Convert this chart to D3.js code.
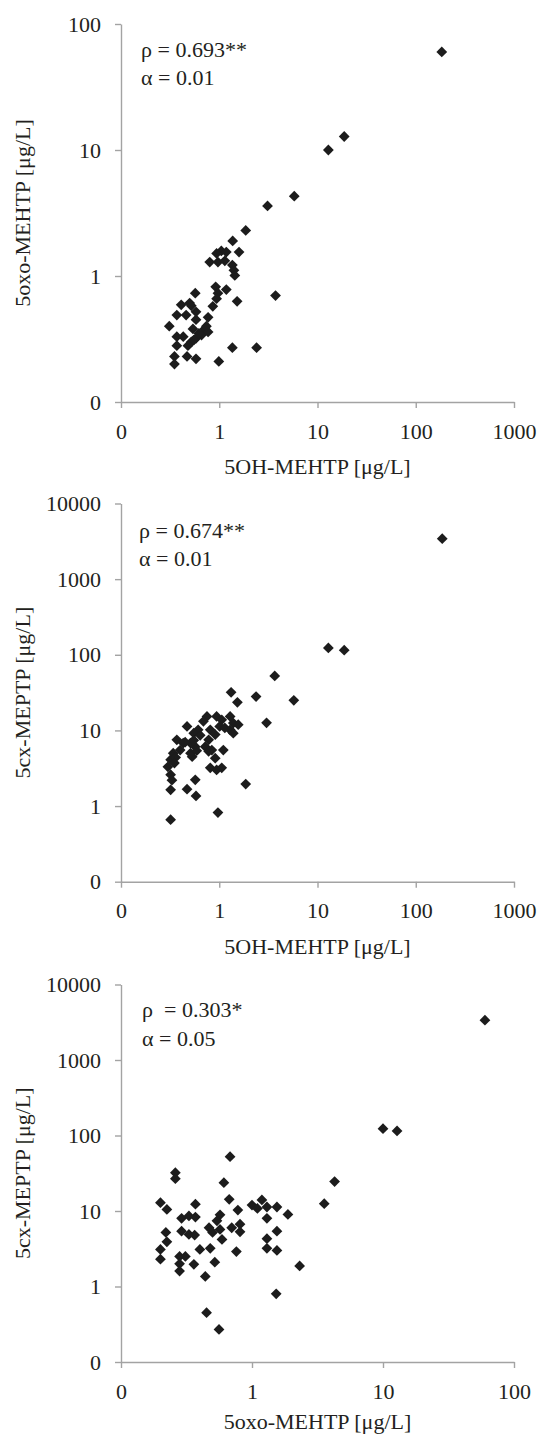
<!DOCTYPE html>
<html>
<head>
<meta charset="utf-8">
<script src="https://cdn.jsdelivr.net/npm/d3@7"></script>
<style>
  body { margin: 0; background: #fff; }
  svg text { font-family: "Liberation Serif", "Times New Roman", serif; fill: #231f20; }
</style>
</head>
<body>
<svg id="chart" width="541" height="1436"></svg>
<script>
// panel 1: 5OH-MEHTP (x) vs 5oxo-MEHTP (y)
const p1_oh = [184, 18.7, 12.9, 5.8, 3.1, 1.86, 1.37, 1.59, 1.05, 0.94, 1.18, 0.80, 0.97, 1.14, 1.36, 1.41, 1.44, 0.92, 1.18, 0.97,
  0.94, 1.52, 3.74, 0.86, 0.57, 0.50, 0.52, 0.41, 0.46, 0.37, 0.58, 0.58, 0.77, 0.31, 0.54, 0.71, 0.77, 0.66, 0.58, 0.52,
  0.48, 0.37, 0.37, 0.43, 0.35, 0.35, 0.47, 0.58, 0.99, 1.36, 2.4, 0.74, 0.62, 0.55]
const p1_oxo = [60, 12.8, 10, 4.3, 3.6, 2.3, 1.9, 1.55, 1.58, 1.51, 1.55, 1.29, 1.29, 1.32, 1.22, 1.11, 1.01, 0.82, 0.78, 0.73,
  0.66, 0.63, 0.70, 0.575, 0.73, 0.61, 0.58, 0.59, 0.49, 0.49, 0.52, 0.45, 0.47, 0.40, 0.38, 0.38, 0.36, 0.34, 0.32, 0.30,
  0.28, 0.33, 0.28, 0.33, 0.23, 0.20, 0.23, 0.22, 0.21, 0.27, 0.27, 0.40, 0.35, 0.31]

// panel 2: 5OH-MEHTP (x) vs 5cx-MEPTP (y)
const p2_oh = [186, 12.9, 18.7, 3.67, 5.74, 2.37, 3.03, 1.32, 1.53, 1.86, 0.97, 0.32, 0.57, 0.47, 0.58, 0.32, 0.75, 0.94, 1.06, 1.29,
  1.39, 1.56, 1.29, 1.39, 1.01, 1.14, 0.69, 0.61, 0.55, 0.47, 0.37, 0.43, 0.40, 0.34, 0.32, 0.30, 0.32, 0.33, 0.51, 0.57,
  0.53, 0.51, 0.81, 0.91, 0.78, 0.72, 0.84, 0.91, 0.81, 0.94, 1.06, 1.10, 0.78, 0.36, 0.35, 0.45, 0.55, 0.64, 0.59]
const p2_cx = [3430, 123, 115, 52.5, 25, 28, 12.6, 31.9, 23.5, 1.95, 0.82, 0.66, 2.22, 1.67, 1.36, 1.64, 15.3, 15.3, 13.8, 15.3,
  12.5, 11.9, 10.2, 9.2, 11.3, 10.8, 13.2, 10.2, 9.2, 11.3, 7.5, 6.8, 5.5, 5.0, 4.1, 3.3, 2.6, 2.2, 6.8, 6.1,
  4.5, 5.0, 10.2, 8.8, 7.5, 6.1, 5.5, 4.3, 3.2, 3.0, 3.2, 5.5, 5.3, 4.4, 3.7, 7.0, 7.4, 8.6, 5.4]

// panel 3: 5oxo-MEHTP (x) vs 5cx-MEPTP (y)
const p3_oxo = [60, 10, 12.8, 0.68, 4.27, 3.56, 0.26, 0.26, 0.61, 0.67, 0.20, 0.224, 0.37, 0.78, 0.29, 0.33, 0.37, 0.57, 0.54, 0.29,
  0.33, 0.365, 0.22, 0.224, 0.20, 0.20, 0.40, 0.48, 0.47, 0.50, 0.57, 0.59, 0.70, 0.81, 0.81, 0.76, 0.52, 0.36, 0.28, 0.31,
  0.28, 0.28, 0.44, 1.30, 1.55, 1.30, 1.30, 1.55, 2.31, 1.53, 0.45, 0.56, 1.0, 1.19, 1.10, 1.30, 1.55, 1.88]
const p3_cx = [3370, 123, 115, 52.5, 24.5, 12.5, 32.2, 26.8, 23.7, 14.3, 12.9, 10.5, 12.3, 10.3, 8.0, 8.6, 8.3, 8.9, 7.4, 5.4,
  4.9, 4.8, 5.2, 3.9, 3.1, 2.3, 3.1, 3.2, 6.0, 5.2, 5.7, 4.2, 6.0, 6.7, 5.3, 2.9, 2.1, 1.97, 2.5, 2.5,
  2.0, 1.6, 1.36, 8.0, 5.4, 4.3, 3.2, 3.0, 1.87, 0.80, 0.45, 0.27, 12.0, 14.0, 10.8, 11.3, 11.3, 9.0]

const panels = [
  {xs: p1_oh, ys: p1_oxo, xMax: 1000, yMax: 100, top: 24, bottom: 402,
   xTitle: '5OH-MEHTP [μg/L]', yTitle: '5oxo-MEHTP [μg/L]', rho: 'ρ = 0.693**', alpha: 'α = 0.01',
   rhoX: 141, rhoY: 57, alphaY: 85, titleGap: 72},
  {xs: p2_oh, ys: p2_cx, xMax: 1000, yMax: 10000, top: 503.5, bottom: 881.7,
   xTitle: '5OH-MEHTP [μg/L]', yTitle: '5cx-MEPTP [μg/L]', rho: 'ρ = 0.674**', alpha: 'α = 0.01',
   rhoX: 139, rhoY: 538, alphaY: 566, titleGap: 72},
  {xs: p3_oxo, ys: p3_cx, xMax: 100, yMax: 10000, top: 984.5, bottom: 1362,
   xTitle: '5oxo-MEHTP [μg/L]', yTitle: '5cx-MEPTP [μg/L]', rho: 'ρ  = 0.303*', alpha: 'α = 0.05',
   rhoX: 142, rhoY: 1017, alphaY: 1046, titleGap: 67}
]

const pad_left = 121
const pad_right = 514
const axisColor = '#a3a3a3'
const svg = d3.select('#chart')

function decades(max){
  let out = []
  for (let v = 0.1; v <= max * 1.001; v *= 10) out.push(+v.toPrecision(1))
  return out
}
const fmt = d => d < 1 ? '0' : String(d)

panels.forEach(p => {
  let xScale = d3.scaleLog().domain([0.1, p.xMax]).range([pad_left, pad_right])
  let yScale = d3.scaleLog().domain([0.1, p.yMax]).range([p.bottom, p.top])

  let xAxis = d3.axisBottom(xScale).tickValues(decades(p.xMax)).tickFormat(fmt)
    .tickSizeInner(6).tickSizeOuter(0).tickPadding(15)
  let yAxis = d3.axisLeft(yScale).tickValues(decades(p.yMax)).tickFormat(fmt)
    .tickSizeInner(6).tickSizeOuter(0).tickPadding(14)

  let gx = svg.append('g').attr('transform', 'translate(0,' + p.bottom + ')').call(xAxis)
  let gy = svg.append('g').attr('transform', 'translate(' + pad_left + ',0)').call(yAxis)

  ;[gx, gy].forEach(g => {
    g.select('.domain').attr('stroke', axisColor).attr('stroke-width', 1.4)
    g.selectAll('.tick line').attr('stroke', axisColor).attr('stroke-width', 1.4)
    g.selectAll('.tick text').attr('font-size', 22).attr('fill', '#231f20')
      .attr('font-family', '"Liberation Serif", serif')
  })

  svg.append('text').text(p.xTitle)
    .attr('x', (pad_left + pad_right) / 2).attr('y', p.bottom + p.titleGap)
    .attr('text-anchor', 'middle').attr('font-size', 22)

  svg.append('text').text(p.yTitle)
    .attr('transform', 'translate(30,' + (p.top + p.bottom) / 2 + ') rotate(-90)')
    .attr('text-anchor', 'middle').attr('font-size', 22)

  svg.append('text').text(p.rho).attr('x', p.rhoX).attr('y', p.rhoY)
    .attr('font-size', 22).style('white-space', 'pre')
  svg.append('text').text(p.alpha).attr('x', p.rhoX).attr('y', p.alphaY)
    .attr('font-size', 22)

  let pts = p.xs.map((x, i) => ({x: x, y: p.ys[i]}))
  svg.append('g').selectAll('path').data(pts).join('path')
    .attr('d', d3.symbol(d3.symbolSquare, 58))
    .attr('transform', d => 'translate(' + xScale(d.x) + ',' + yScale(d.y) + ') rotate(45)')
    .attr('fill', '#1c1c1c')
})
</script>
</body>
</html>
